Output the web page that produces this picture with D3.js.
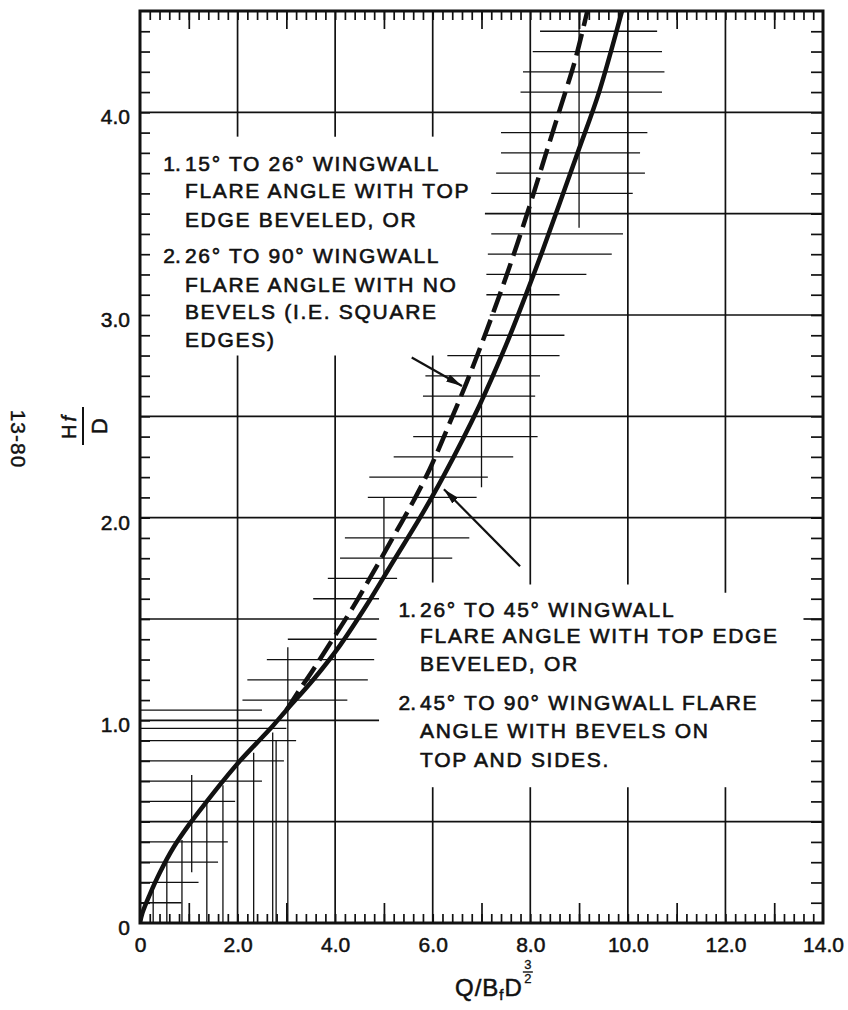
<!DOCTYPE html>
<html>
<head>
<meta charset="utf-8">
<script src="https://cdn.jsdelivr.net/npm/d3@7"></script>
<style>
  body { margin: 0; background: #fff; }
  svg { display: block; }
  text { font-family: "Liberation Sans", Arial, sans-serif; fill: #111; }
</style>
</head>
<body>
<svg id="chart"></svg>
<script>
// values
const xTickValues = [0, 2, 4, 6, 8, 10, 12, 14];
const xTickLabels = ["0", "2.0", "4.0", "6.0", "8.0", "10.0", "12.0", "14.0"];
const yTickValues = [0, 1, 2, 3, 4];
const yTickLabels = ["0", "1.0", "2.0", "3.0", "4.0"];

// solid curve (26-45 deg bevelled / 45-90 deg bevels)
const solidQ = [0, 0.05, 0.2, 0.41, 0.68, 1.02, 1.37, 1.7, 2.05, 2.4, 2.73, 3.0, 3.55, 4.1, 4.65, 5.18, 5.74, 6.21, 6.95, 7.5, 7.91, 8.24, 8.6, 9.0, 9.41, 9.88];
const solidH = [0, 0.05, 0.14, 0.25, 0.37, 0.49, 0.6, 0.7, 0.8, 0.89, 0.975, 1.05, 1.2, 1.37, 1.57, 1.78, 2.0, 2.2, 2.55, 2.85, 3.1, 3.31, 3.55, 3.82, 4.1, 4.5];

// dashed curve (15-26 deg bevelled / 26-90 deg square edges), splits off near Q = 3
const dashedQ = [3.0, 3.27, 3.55, 3.95, 4.37, 4.78, 5.18, 5.6, 5.94, 6.3, 6.7, 7.1, 7.52, 7.99, 8.3, 8.6, 8.91, 9.12, 9.17];
const dashedH = [1.05, 1.15, 1.25, 1.4, 1.56, 1.73, 1.9, 2.08, 2.24, 2.44, 2.67, 2.92, 3.2, 3.54, 3.78, 4.01, 4.25, 4.45, 4.5];

// heavy grid lines left on the sheet: [H, Q from, Q to] and [Q, H from, H to]
const gridH = [[4.0, 0, 14], [3.5, 7.07, 14], [3.0, 7.17, 14], [2.5, 0, 14], [2.0, 0, 14],
  [1.5, 0, 4.9], [1.5, 13.6, 14], [1.0, 0, 4.9], [0.5, 0, 14]];
const gridV = [[2, 0, 2.8], [2, 3.88, 4.5], [4, 0, 2.8], [4, 3.88, 4.5],
  [6, 0, 0.67], [6, 1.68, 2.8], [6, 3.88, 4.5], [8, 0, 0.67], [8, 1.67, 4.5],
  [10, 0, 0.67], [10, 1.67, 4.5], [12, 0, 0.67], [12, 1.63, 4.5]];

// fine graph-paper lines kept along the curves
const hatchH = [[0.1, 0, 0.85], [0.2, 0, 1.2], [0.3, 0, 1.6], [0.4, 0, 1.8], [0.6, 0, 1.95],
  [0.7, 0, 2.5], [0.8, 0, 2.95], [0.9, 0, 3.2], [0.96, 0, 3.0], [1.05, 0, 2.5],
  [1.1, 2.1, 4.25], [1.2, 2.2, 4.67], [1.3, 2.6, 4.8], [1.4, 3.03, 4.85], [1.6, 3.55, 4.9],
  [1.7, 3.85, 5.27], [1.8, 4.1, 6.4], [1.9, 4.2, 6.75], [2.1, 4.67, 6.9], [2.2, 4.7, 7.13],
  [2.3, 5.2, 7.65], [2.4, 5.6, 8.15], [2.6, 5.8, 8.1], [2.7, 5.85, 8.2], [2.8, 6.3, 8.6],
  [2.9, 7.1, 8.7], [3.1, 7.1, 8.6], [3.2, 7.1, 9.15], [3.3, 7.13, 9.67], [3.4, 7.2, 9.9],
  [3.6, 7.2, 10.1], [3.7, 7.3, 10.35], [3.8, 7.4, 10.25], [3.9, 7.4, 10.4],
  [4.1, 7.8, 10.7], [4.2, 7.85, 10.75], [4.3, 8.05, 10.7], [4.4, 8.2, 10.6]];
const hatchV = [[0.27, 0, 0.19], [0.55, 0, 0.3], [0.86, 0, 0.41], [1.06, 0.25, 0.73],
  [1.37, 0, 0.6], [1.7, 0, 0.68], [2.33, 0, 0.84], [2.72, 0, 0.94], [2.79, 0, 0.9],
  [3.03, 0, 1.36], [5.0, 1.7, 2.1], [7.0, 2.15, 2.8], [9.0, 3.43, 4.5]];

// leader arrows: [Q tail, H tail, Q tip, H tip]
const arrows = [[5.57, 2.79, 6.6, 2.65], [7.79, 1.76, 6.23, 2.14]];

// notes: [number, text]
const notesUpper = [["1.", "15° TO 26° WINGWALL"], ["", "FLARE ANGLE WITH TOP"], ["", "EDGE BEVELED, OR"],
  ["2.", "26° TO 90° WINGWALL"], ["", "FLARE ANGLE WITH NO"], ["", "BEVELS (I.E. SQUARE"], ["", "EDGES)"]];
const notesLower = [["1.", "26° TO 45° WINGWALL"], ["", "FLARE ANGLE WITH TOP EDGE"], ["", "BEVELED, OR"],
  ["2.", "45° TO 90° WINGWALL FLARE"], ["", "ANGLE WITH BEVELS ON"], ["", "TOP AND SIDES."]];

// layout
const width = 848;
const height = 1010;
const margin = { left: 140, right: 25, top: 11, bottom: 87 };

const svg = d3.select('svg#chart').attr('width', width).attr('height', height);
svg.append('rect').attr('width', width).attr('height', height).attr('fill', '#fff');

const x = d3.scaleLinear().domain([0, 14]).range([margin.left, width - margin.right]);
const y = d3.scaleLinear().domain([0, 4.5]).range([height - margin.bottom, margin.top]);

const ink = '#111';

svg.append('defs').append('clipPath').attr('id', 'plot-clip')
  .append('rect')
  .attr('x', x(0)).attr('y', y(4.5))
  .attr('width', x(14) - x(0)).attr('height', y(0) - y(4.5));

// grid
const grid = svg.append('g').attr('stroke', ink).attr('fill', 'none');

grid.append('g').attr('stroke-width', 1.3)
  .selectAll('line').data(hatchH).join('line')
  .attr('x1', d => x(d[1])).attr('x2', d => x(d[2]))
  .attr('y1', d => y(d[0])).attr('y2', d => y(d[0]));

grid.append('g').attr('stroke-width', 1.3)
  .selectAll('line').data(hatchV).join('line')
  .attr('x1', d => x(d[0])).attr('x2', d => x(d[0]))
  .attr('y1', d => y(d[1])).attr('y2', d => y(d[2]));

grid.append('g').attr('stroke-width', 1.7)
  .selectAll('line').data(gridH).join('line')
  .attr('x1', d => x(d[1])).attr('x2', d => x(d[2]))
  .attr('y1', d => y(d[0])).attr('y2', d => y(d[0]));

grid.append('g').attr('stroke-width', 1.7)
  .selectAll('line').data(gridV).join('line')
  .attr('x1', d => x(d[0])).attr('x2', d => x(d[0]))
  .attr('y1', d => y(d[1])).attr('y2', d => y(d[2]));

// tick marks on all four sides, pointing in
const minorQ = d3.range(1, 70).map(i => +(i * 0.2).toFixed(1));
const oddQ = [1, 3, 5, 7, 9, 11, 13];
const minorH = d3.range(1, 45).map(i => +(i * 0.1).toFixed(1));

function ticks(axis, transform) {
  svg.append('g')
    .attr('transform', transform)
    .call(axis)
    .call(g => g.select('.domain').remove())
    .call(g => g.selectAll('line').attr('stroke', ink).attr('stroke-width', 1.7));
}

ticks(d3.axisBottom(x).tickValues(minorQ).tickSize(-9).tickFormat(''), `translate(0,${y(0)})`);
ticks(d3.axisBottom(x).tickValues(oddQ).tickSize(-20).tickFormat(''), `translate(0,${y(0)})`);
ticks(d3.axisTop(x).tickValues(minorQ).tickSize(-9).tickFormat(''), `translate(0,${y(4.5)})`);
ticks(d3.axisTop(x).tickValues(oddQ).tickSize(-18).tickFormat(''), `translate(0,${y(4.5)})`);
ticks(d3.axisLeft(y).tickValues(minorH).tickSize(-10).tickFormat(''), `translate(${x(0)},0)`);
ticks(d3.axisRight(y).tickValues(minorH).tickSize(-12).tickFormat(''), `translate(${x(14)},0)`);

// tick labels
svg.append('g')
  .attr('transform', `translate(0,${y(0)})`)
  .call(d3.axisBottom(x).tickValues(xTickValues).tickSize(0).tickPadding(14)
    .tickFormat((d, i) => xTickLabels[i]))
  .call(g => g.select('.domain').remove())
  .call(g => g.selectAll('text').attr('font-size', 21).attr('fill', ink)
    .style('stroke', ink).style('stroke-width', 0.5)
    .attr('font-family', '"Liberation Sans", Arial, sans-serif'));

svg.append('g')
  .attr('transform', `translate(${x(0)},0)`)
  .call(d3.axisLeft(y).tickValues(yTickValues).tickSize(0).tickPadding(10)
    .tickFormat((d, i) => yTickLabels[i]))
  .call(g => g.select('.domain').remove())
  .call(g => g.selectAll('text').attr('font-size', 21).attr('dy', '0.55em').attr('fill', ink)
    .style('stroke', ink).style('stroke-width', 0.5)
    .attr('font-family', '"Liberation Sans", Arial, sans-serif'));

// frame
svg.append('rect')
  .attr('x', x(0)).attr('y', y(4.5))
  .attr('width', x(14) - x(0)).attr('height', y(0) - y(4.5))
  .attr('fill', 'none').attr('stroke', ink).attr('stroke-width', 3);

// curves
const line = d3.line().x(d => x(d[0])).y(d => y(d[1])).curve(d3.curveCatmullRom.alpha(0.5));
const curves = svg.append('g').attr('clip-path', 'url(#plot-clip)').attr('fill', 'none').attr('stroke', ink);

curves.append('path')
  .attr('d', line(solidQ.map((q, i) => [q, solidH[i]])))
  .attr('stroke-width', 4.5);

curves.append('path')
  .attr('d', line(dashedQ.map((q, i) => [q, dashedH[i]])))
  .attr('stroke-width', 4.5)
  .attr('stroke-dasharray', '22 8');

// leader arrows
svg.select('defs').append('marker')
  .attr('id', 'head')
  .attr('markerUnits', 'userSpaceOnUse')
  .attr('markerWidth', 17).attr('markerHeight', 10)
  .attr('refX', 16).attr('refY', 4)
  .attr('orient', 'auto')
  .append('path').attr('d', 'M0,0 L16,4 L0,8 Z').attr('fill', ink);

svg.append('g').selectAll('line').data(arrows).join('line')
  .attr('x1', d => x(d[0])).attr('y1', d => y(d[1]))
  .attr('x2', d => x(d[2])).attr('y2', d => y(d[3]))
  .attr('stroke', ink).attr('stroke-width', 2.2)
  .attr('marker-end', 'url(#head)');

// notes
function notes(lines, q, h, baselines) {
  const g = svg.append('g')
    .attr('transform', `translate(${x(q)},${y(h)})`)
    .attr('font-size', 21)
    .attr('letter-spacing', 1.7)
    .style('stroke', ink).style('stroke-width', 0.6);
  lines.forEach((d, i) => {
    if (d[0]) g.append('text').attr('x', -4).attr('y', baselines[i]).attr('text-anchor', 'end')
      .attr('letter-spacing', 0).text(d[0]);
    g.append('text').attr('x', 0).attr('y', baselines[i]).text(d[1]);
  });
}
notes(notesUpper, 0.92, 3.71, [0, 27, 56, 92, 121, 148, 176]);
notes(notesLower, 5.74, 1.51, [0, 26, 54, 93, 121, 150]);

// y title: Hf over D, turned on its side
const yTitle = svg.append('g').attr('transform', 'translate(83,426) rotate(-90)')
  .style('stroke', ink).style('stroke-width', 0.5);
yTitle.append('text').attr('text-anchor', 'middle').attr('y', -7).attr('font-size', 20)
  .attr('letter-spacing', 3)
  .call(t => { t.append('tspan').text('H'); t.append('tspan').attr('font-style', 'italic').text('f'); });
yTitle.append('line').attr('x1', -19).attr('x2', 19).attr('stroke', ink).attr('stroke-width', 2);
yTitle.append('text').attr('text-anchor', 'middle').attr('y', 24).attr('font-size', 22).text('D');

// sheet number
svg.append('text')
  .attr('transform', 'translate(18,439) rotate(90)')
  .attr('text-anchor', 'middle').attr('dy', '0.35em')
  .attr('font-size', 21).attr('letter-spacing', 1)
  .style('stroke', ink).style('stroke-width', 0.4)
  .text('13-80');

// x title: Q / Bf D^(3/2)
const xTitle = svg.append('text').attr('x', 455).attr('y', 996).attr('font-size', 24)
  .attr('letter-spacing', 1).style('stroke', ink).style('stroke-width', 0.5);
xTitle.append('tspan').text('Q/B');
xTitle.append('tspan').attr('font-size', 15).attr('dy', 4).text('f');
xTitle.append('tspan').attr('dy', -4).text('D');
const tEnd = 455 + xTitle.node().getComputedTextLength();
const sup = svg.append('g').style('stroke', ink).style('stroke-width', 0.3);
sup.append('text').attr('x', tEnd + 5).attr('y', 969).attr('font-size', 13).attr('text-anchor', 'middle').text('3');
sup.append('line').attr('x1', tEnd).attr('x2', tEnd + 10).attr('y1', 972).attr('y2', 972)
  .attr('stroke', ink).attr('stroke-width', 1.4);
sup.append('text').attr('x', tEnd + 5).attr('y', 983).attr('font-size', 13).attr('text-anchor', 'middle').text('2');
</script>
</body>
</html>
